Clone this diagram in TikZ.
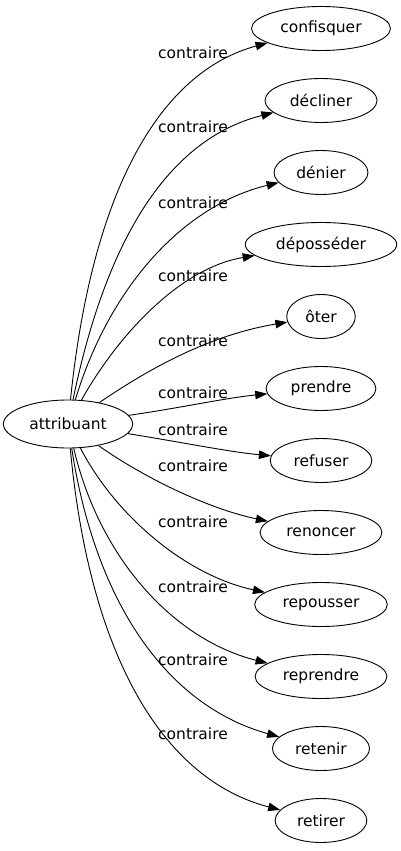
\documentclass[tikz,border=0pt]{standalone}
\usepackage{fontspec}
\setmainfont{DejaVu Sans}
\usetikzlibrary{arrows.meta, shapes.geometric}
\tikzset{
  wordnode/.style={draw, ellipse, line width=0.9pt, inner xsep=8.5pt, inner ysep=2pt,
    minimum height=44pt, font=\fontsize{15.5}{18}\selectfont},
  rellabel/.style={inner sep=0pt, font=\fontsize{15.5}{18}\selectfont},
  relarrow/.style={line width=0.9pt, -{Triangle[length=12pt, width=8.5pt]}}
}

\begin{document}
\begin{tikzpicture}[x=1pt, y=-1pt]
\useasboundingbox (0,0) rectangle (400,851);

% Source word
\node[wordnode, inner xsep=7pt, minimum height=48pt] (attribuant) at (68,424) {attribuant};

% Opposite words
\node[wordnode] (confisquer) at (321,28.5) {confisquer};
\node[wordnode] (decliner) at (321,100.5) {décliner};
\node[wordnode] (denier) at (321,172.5) {dénier};
\node[wordnode] (deposseder) at (321,244.5) {déposséder};
\node[wordnode] (oter) at (321,316.5) {ôter};
\node[wordnode] (prendre) at (321,388.5) {prendre};
\node[wordnode] (refuser) at (321,460.5) {refuser};
\node[wordnode] (renoncer) at (321,532.5) {renoncer};
\node[wordnode] (repousser) at (321,604.5) {repousser};
\node[wordnode] (reprendre) at (321,676.5) {reprendre};
\node[wordnode] (retenir) at (321,748.5) {retenir};
\node[wordnode] (retirer) at (321,820.5) {retirer};

% Edges
\draw[relarrow] (attribuant) .. controls (92,190) and (160,72) .. (confisquer);
\draw[relarrow] (attribuant) .. controls (105,245) and (165,140) .. (decliner);
\draw[relarrow] (attribuant) .. controls (110,285) and (185,205) .. (denier);
\draw[relarrow] (attribuant) .. controls (118,335) and (180,268) .. (deposseder);
\draw[relarrow] (attribuant) .. controls (150,368) and (210,335) .. (oter);
\draw[relarrow] (attribuant) .. controls (180,408) and (225,398) .. (prendre);
\draw[relarrow] (attribuant) .. controls (180,442) and (230,452) .. (refuser);
\draw[relarrow] (attribuant) .. controls (140,475) and (205,508) .. (renoncer);
\draw[relarrow] (attribuant) .. controls (115,515) and (185,575) .. (repousser);
\draw[relarrow] (attribuant) .. controls (100,560) and (175,640) .. (reprendre);
\draw[relarrow] (attribuant) .. controls (95,600) and (165,705) .. (retenir);
\draw[relarrow] (attribuant) .. controls (90,660) and (165,780) .. (retirer);

% Edge labels
\node[rellabel] (l1) at (193,53) {contraire};
\node[rellabel] (l2) at (193,127) {contraire};
\node[rellabel] (l3) at (193,203) {contraire};
\node[rellabel] (l4) at (193,276) {contraire};
\node[rellabel] (l5) at (193,341) {contraire};
\node[rellabel] (l6) at (193,393) {contraire};
\node[rellabel] (l7) at (193,430) {contraire};
\node[rellabel] (l8) at (193,466) {contraire};
\node[rellabel] (l9) at (193,522) {contraire};
\node[rellabel] (l10) at (193,587) {contraire};
\node[rellabel] (l11) at (193,660) {contraire};
\node[rellabel] (l12) at (193,734) {contraire};

\end{tikzpicture}
\end{document}
